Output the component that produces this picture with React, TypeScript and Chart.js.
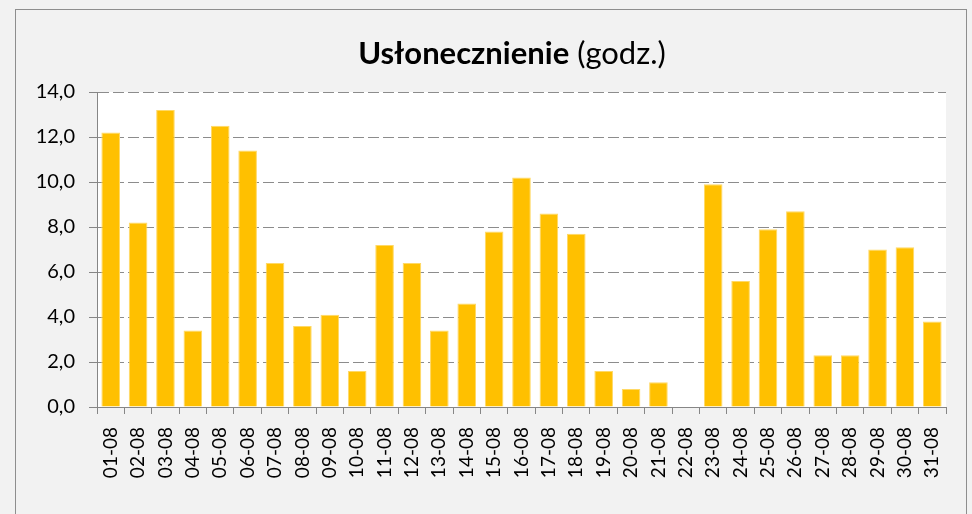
import React, { useEffect, useRef } from "react";
import { Chart, registerables } from "chart.js";

Chart.register(...registerables);

const categories = [
  "01-08", "02-08", "03-08", "04-08", "05-08", "06-08", "07-08", "08-08",
  "09-08", "10-08", "11-08", "12-08", "13-08", "14-08", "15-08", "16-08",
  "17-08", "18-08", "19-08", "20-08", "21-08", "22-08", "23-08", "24-08",
  "25-08", "26-08", "27-08", "28-08", "29-08", "30-08", "31-08",
];

const sunshineHours = [
  12.2, 8.2, 13.2, 3.4, 12.5, 11.4, 6.4, 3.6,
  4.1, 1.6, 7.2, 6.4, 3.4, 4.6, 7.8, 10.2,
  8.6, 7.7, 1.6, 0.8, 1.1, 0, 9.9, 5.6,
  7.9, 8.7, 2.3, 2.3, 7.0, 7.1, 3.8,
];

const titleBold = "Usłonecznienie";
const titleRest = "(godz.)";

const yMin = 0;
const yMax = 14;
const yStep = 2;

const FONT = "Lato, 'Open Sans', sans-serif";

export default function App() {
  const canvasRef = useRef<HTMLCanvasElement | null>(null);

  useEffect(() => {
    if (!canvasRef.current) return;
    const plotBg = {
      id: "plotBg",
      beforeDraw(chart: any) {
        const { ctx, chartArea } = chart;
        ctx.save();
        ctx.fillStyle = "#FFFFFF";
        ctx.fillRect(
          chartArea.left,
          chartArea.top,
          chartArea.right - chartArea.left,
          chartArea.bottom - chartArea.top
        );
        ctx.restore();
      },
    };
    const chart = new Chart(canvasRef.current, {
      type: "bar",
      data: {
        labels: categories,
        datasets: [
          {
            data: sunshineHours,
            backgroundColor: "#FFC000",
            borderColor: "#FFD966",
            borderWidth: 1,
            categoryPercentage: 1,
            barPercentage: 0.68,
          },
        ],
      },
      options: {
        animation: false,
        responsive: false,
        maintainAspectRatio: false,
        devicePixelRatio: 1,
        layout: { padding: { top: 92, right: 26, bottom: 0, left: 0 } },
        plugins: {
          legend: { display: false },
          title: { display: false },
          tooltip: { enabled: false },
        },
        scales: {
          x: {
            afterFit: (s: any) => {
              s.height = 107;
            },
            grid: {
              display: true,
              offset: true,
              drawOnChartArea: false,
              drawTicks: true,
              tickLength: 7,
              tickColor: "#868686",
              color: "#868686",
            },
            border: { display: true, color: "#868686", width: 1 },
            ticks: {
              autoSkip: false,
              maxRotation: 90,
              minRotation: 90,
              padding: 13,
              color: "#000000",
              font: { family: FONT, size: 19 },
            },
          },
          y: {
            min: yMin,
            max: yMax,
            afterFit: (s: any) => {
              s.width = 97;
            },
            grid: {
              color: "#8C8C8C",
              lineWidth: 1,
              drawTicks: true,
              tickLength: 8,
              tickColor: "#868686",
              tickBorderDash: [],
            } as any,
            border: { display: true, color: "#868686", width: 1, dash: [11, 4] } as any,
            ticks: {
              stepSize: yStep,
              padding: 14,
              color: "#000000",
              font: { family: FONT, size: 20 },
              callback: (v: any) => Number(v).toFixed(1).replace(".", ","),
            },
          },
        },
      },
      plugins: [plotBg],
    });
    return () => chart.destroy();
  }, []);

  return (
    <div
      style={{
        position: "fixed",
        left: 0,
        top: 0,
        width: 972,
        height: 514,
        background: "#F2F2F2",
        overflow: "hidden",
      }}
    >
      <div
        style={{
          position: "absolute",
          left: 15,
          top: 9,
          width: 952,
          height: 540,
          border: "1px solid #8E8E8E",
          boxSizing: "border-box",
        }}
      />
      <canvas
        ref={canvasRef}
        width={972}
        height={514}
        style={{ position: "absolute", left: 0, top: 0, width: 972, height: 514 }}
      />
      <div
        style={{
          position: "absolute",
          left: 0,
          top: 34,
          width: 1024,
          textAlign: "center",
          fontFamily: FONT,
          fontSize: 31,
          lineHeight: "36px",
          color: "#000000",
          whiteSpace: "nowrap",
        }}
      >
        <span style={{ fontWeight: 700 }}>{titleBold}</span>
        <span style={{ fontWeight: 400 }}> {titleRest}</span>
      </div>
    </div>
  );
}
